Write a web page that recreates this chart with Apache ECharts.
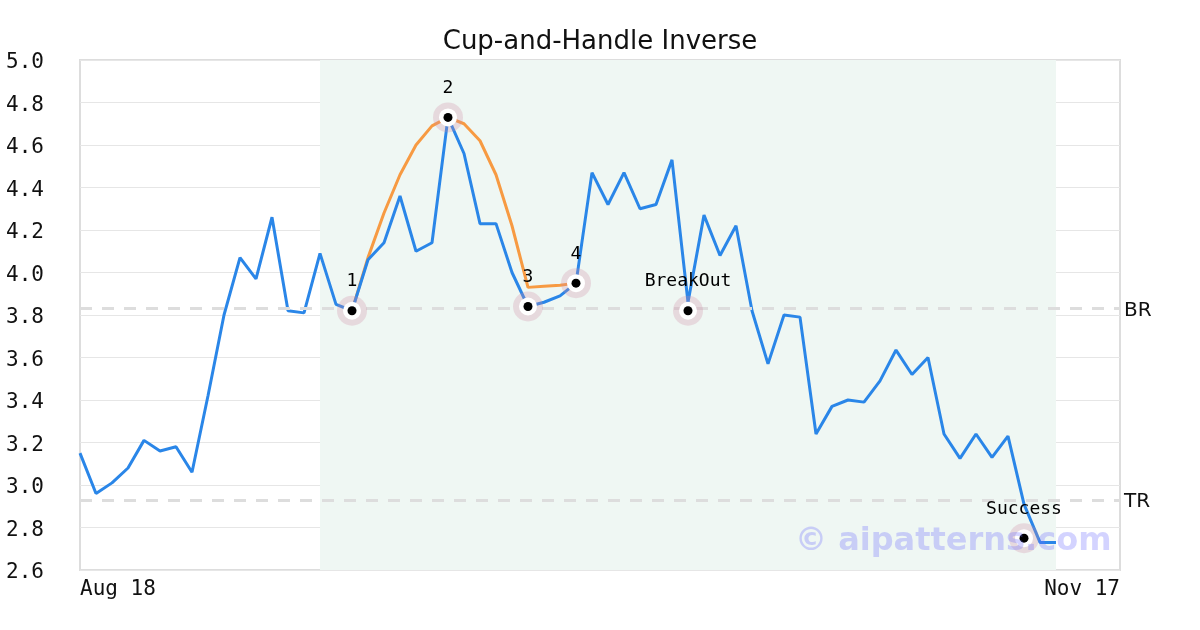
<!DOCTYPE html>
<html>
<head>
<meta charset="utf-8">
<script src="https://cdn.jsdelivr.net/npm/echarts@6/dist/echarts.min.js"></script>
<style>
html,body{margin:0;padding:0;background:#fff;}
#chart{width:1200px;height:630px;}
</style>
</head>
<body>
<div id="chart"></div>
<script>
var dates = ['Aug 18','Aug 21','Aug 22','Aug 23','Aug 24','Aug 25','Aug 28','Aug 29','Aug 30','Aug 31',
  'Sep 01','Sep 04','Sep 05','Sep 06','Sep 07','Sep 08','Sep 11','Sep 12','Sep 13','Sep 14','Sep 15',
  'Sep 18','Sep 19','Sep 20','Sep 21','Sep 22','Sep 25','Sep 26','Sep 27','Sep 28','Sep 29',
  'Oct 02','Oct 03','Oct 04','Oct 05','Oct 06','Oct 09','Oct 10','Oct 11','Oct 12','Oct 13',
  'Oct 16','Oct 17','Oct 18','Oct 19','Oct 20','Oct 23','Oct 24','Oct 25','Oct 26','Oct 27',
  'Oct 30','Oct 31','Nov 01','Nov 02','Nov 03','Nov 06','Nov 07','Nov 08','Nov 09','Nov 10',
  'Nov 13','Nov 14','Nov 15','Nov 16','Nov 17'];

var price = [3.15, 2.96, 3.01, 3.08, 3.21, 3.16, 3.18, 3.06, 3.42, 3.80,
  4.07, 3.97, 4.26, 3.82, 3.81, 4.09, 3.85, 3.82, 4.06, 4.14,
  4.36, 4.10, 4.14, 4.73, 4.56, 4.23, 4.23, 4.00, 3.84, 3.86,
  3.89, 3.95, 4.47, 4.32, 4.47, 4.30, 4.32, 4.53, 3.86, 4.27,
  4.08, 4.22, 3.82, 3.57, 3.80, 3.79, 3.24, 3.37, 3.40, 3.39,
  3.49, 3.635, 3.52, 3.60, 3.24, 3.125, 3.24, 3.13, 3.23, 2.91,
  2.73, 2.73];

var cupStart = 17;
var cupValues = [3.82, 4.07, 4.28, 4.46, 4.60, 4.69, 4.73, 4.70, 4.62, 4.46, 4.22, 3.93, 3.935, 3.94, 3.95];

var zoneStart = 15;
var zoneEnd = 61;

var levelNames = ['BR', 'TR'];
var levelValues = [3.83, 2.93];

var annIdx = [17, 23, 28, 31, 38, 59];
var annVal = [3.82, 4.73, 3.84, 3.95, 3.82, 2.75];
var annLabel = ['1', '2', '3', '4', 'BreakOut', 'Success'];

var yTicks = {min: 2.6, max: 5.0, interval: 0.2};

var cupData = dates.map(function(){ return null; });
cupValues.forEach(function(v, i){ cupData[cupStart + i] = v; });

var annPts = annIdx.map(function(x, i){ return [x, annVal[i]]; });

var mono = '"DejaVu Sans Mono", monospace';
var sans = '"DejaVu Sans", sans-serif';

var chart = echarts.init(document.getElementById('chart'), null, {renderer: 'canvas'});
chart.setOption({
  animation: false,
  backgroundColor: '#ffffff',
  title: {
    text: 'Cup-and-Handle Inverse',
    left: 'center',
    top: 24,
    textStyle: {fontFamily: sans, fontSize: 26, fontWeight: 'normal', color: '#111'}
  },
  grid: {
    left: 80, right: 80, top: 60, bottom: 60,
    show: true, borderColor: '#dddddd', borderWidth: 2, backgroundColor: 'transparent'
  },
  xAxis: {
    type: 'category',
    data: dates,
    boundaryGap: false,
    axisLine: {show: false},
    axisTick: {show: false},
    splitLine: {show: false},
    axisLabel: {
      interval: function(i){ return i === 0 || i === dates.length - 1; },
      showMinLabel: true, showMaxLabel: true,
      alignMinLabel: 'left', alignMaxLabel: 'right',
      fontFamily: mono, fontSize: 21, color: '#111', margin: 9
    }
  },
  yAxis: {
    type: 'value',
    min: yTicks.min, max: yTicks.max, interval: yTicks.interval,
    axisLine: {show: false},
    axisTick: {show: false},
    splitLine: {lineStyle: {color: '#e6e6e6', width: 1}},
    axisLabel: {
      formatter: function(v){ return v.toFixed(1); },
      fontFamily: mono, fontSize: 21, color: '#111', margin: 36,
      verticalAlign: 'top', lineHeight: 6
    }
  },
  graphic: [{
    type: 'text',
    left: 795, top: 526,
    z: 100,
    style: {
      text: '© aipatterns.com',
      font: 'bold 32px "DejaVu Sans", sans-serif',
      fill: 'rgba(110,110,255,0.3)'
    }
  }],
  series: [
    {
      type: 'line',
      data: price,
      symbol: 'none',
      lineStyle: {color: '#2a86e8', width: 3},
      itemStyle: {color: '#2a86e8'},
      z: 3,
      markArea: {
        silent: true,
        itemStyle: {color: '#eff7f3'},
        data: [[{xAxis: zoneStart}, {xAxis: zoneEnd}]]
      },
      markLine: {
        silent: true,
        symbol: 'none',
        lineStyle: {type: [12, 10], color: '#dddddd', width: 3},
        label: {
          show: true, position: 'end', distance: 4,
          fontFamily: sans, fontSize: 20, color: '#111',
          verticalAlign: 'top', lineHeight: 4,
          formatter: function(p){ return p.name; }
        },
        data: levelValues.map(function(v, i){ return {yAxis: v, name: levelNames[i]}; })
      }
    },
    {
      type: 'line',
      data: cupData,
      symbol: 'none',
      connectNulls: false,
      lineStyle: {color: '#f79a42', width: 3},
      z: 2
    },
    {
      type: 'scatter',
      data: annPts,
      symbol: 'circle',
      symbolSize: 30,
      itemStyle: {color: 'rgba(210,140,165,0.28)', opacity: 1},
      z: 5
    },
    {
      type: 'scatter',
      data: annPts,
      symbol: 'circle',
      symbolSize: 18,
      itemStyle: {color: '#ffffff', opacity: 1},
      z: 6
    },
    {
      type: 'scatter',
      data: annPts,
      symbol: 'circle',
      symbolSize: 9,
      itemStyle: {color: '#000000', opacity: 1},
      z: 7,
      label: {
        show: true,
        position: 'inside',
        offset: [0, -29],
        fontFamily: mono, fontSize: 18, color: '#000',
        formatter: function(p){ return annLabel[p.dataIndex]; }
      }
    }
  ]
});
</script>
</body>
</html>
